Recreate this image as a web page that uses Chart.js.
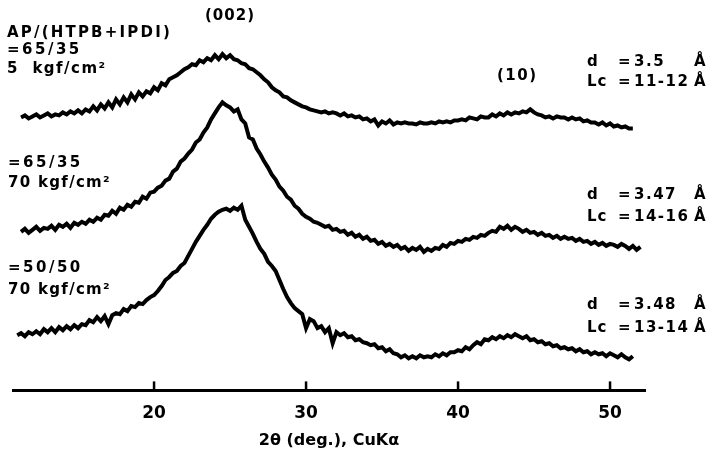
<!DOCTYPE html>
<html>
<head>
<meta charset="utf-8">
<script src="https://cdn.jsdelivr.net/npm/chart.js@4/dist/chart.umd.min.js"></script>
<style>
  body { margin: 0; background: #fff; }
</style>
</head>
<body>
<canvas id="chart" width="713" height="450"></canvas>
<script>
// diffractometer sampling grid, deg 2θ
const stepDeg = 0.25;

// AP/(HTPB+IPDI) = 65/35, 5 kgf/cm2  (starts at 11.25°)
const startTop = 11.25;
const topTrace = [
    272, 274, 271, 273,  275, 272, 274, 276,  273, 275, 274, 277,  275, 278, 276, 279,
    276, 280, 278, 283,  279, 285, 281, 287,  282, 290, 285, 292,  287, 295, 290, 297,
    293, 298, 296, 302,  299, 306, 304, 310,  312, 314, 317, 320,  322, 325, 324, 329,
    327, 331, 329, 334,  330, 335, 331, 334,  330, 329, 326, 325,  321, 320, 317, 314,
    310, 307, 302, 299,  297, 293, 292, 289,  287, 285, 283, 282,  280, 279, 278, 277,
    278, 276, 277, 276,  274, 276, 273, 274,  272, 273, 270, 271,  268, 270, 264, 268,
    266, 269, 265, 267,  266, 267, 266, 266,  265, 267, 266, 266,  267, 266, 268, 267,
    268, 267, 269, 269,  270, 269, 272, 271,  270, 273, 272, 272,  275, 273, 276, 274,
    277, 275, 277, 276,  278, 277, 280, 277,  275, 274, 272, 273,  271, 273, 272, 272,
    270, 272, 270, 271,  268, 269, 267, 267,  265, 267, 264, 266,  263, 264, 262, 263,
    261, 261
];

// = 65/35, 70 kgf/cm2  (starts at 11.25°)
const startMid = 11.25;
const midTrace = [
    158, 161, 157, 160,  163, 159, 162, 161,  164, 160, 165, 163,  166, 162, 167, 165,
    168, 166, 170, 168,  172, 170, 175, 174,  179, 176, 182, 180,  185, 183, 188, 187,
    193, 191, 197, 198,  202, 204, 209, 211,  218, 221, 228, 231,  236, 240, 247, 250,
    257, 262, 270, 276,  282, 287, 284, 282,  278, 280, 270, 266,  252, 250, 241, 235,
    228, 222, 215, 210,  203, 199, 193, 190,  184, 181, 176, 173,  171, 168, 167, 165,
    163, 164, 160, 161,  158, 159, 155, 157,  153, 155, 151, 153,  149, 150, 146, 148,
    144, 146, 143, 145,  141, 143, 139, 142,  140, 143, 138, 141,  139, 142, 141, 145,
    143, 147, 146, 149,  148, 151, 150, 153,  152, 155, 154, 157,  159, 158, 163, 161,
    164, 160, 163, 161,  158, 160, 157, 158,  155, 157, 154, 155,  152, 154, 151, 153,
    151, 152, 149, 151,  148, 149, 146, 148,  145, 147, 144, 146,  145, 143, 146, 144,
    141, 144, 140, 143
];

// = 50/50, 70 kgf/cm2  (starts at 11.0°)
const startBot = 11.0;
const botTrace = [
    55,
    57, 54, 58, 56,   59, 56, 61, 58,   62, 58, 63, 60,   64, 61, 65, 62,
    66, 65, 70, 68,   73, 69, 74, 66,   75, 77, 76, 81,   79, 84, 83, 87,
    86, 90, 93, 95,   99, 104, 110, 113,  117, 119, 124, 127,  134, 141, 148, 154,
    160, 165, 171, 175,  178, 180, 181, 179,  182, 180, 184, 170,  163, 156, 148, 141,
    136, 128, 124, 119,  110, 101, 93, 87,  82, 79, 76, 62,   71, 69, 62, 64,
    58, 62, 47, 58,   55, 57, 53, 54,   50, 51, 48, 47,   45, 46, 42, 43,
    39, 41, 37, 36,   33, 35, 32, 34,   32, 35, 33, 34,   33, 36, 34, 37,
    35, 38, 38, 40,   39, 43, 41, 45,   48, 46, 51, 50,   53, 51, 54, 52,
    55, 53, 56, 54,   52, 54, 50, 51,   48, 49, 46, 47,   44, 45, 42, 43,
    41, 42, 39, 41,   38, 39, 36, 38,   36, 37, 34, 37,   35, 33, 36, 33,
    31, 34
];

const xTicks = [20, 30, 40, 50];

function toPoints(start, values) {
    return values.map((v, i) => ({ x: start + i * stepDeg, y: v }));
}

const trace = (data) => ({
    data: data,
    borderColor: '#000',
    borderWidth: 4,
    pointRadius: 0,
    tension: 0,
    fill: false
});

const FONT = 'DejaVu Sans, Verdana, sans-serif';

// text on the plot + little inward tick marks
const annotate = {
    id: 'annotate',
    afterDraw(chart) {
        const ctx = chart.ctx;
        const xs = chart.scales.x;
        ctx.save();

        ctx.strokeStyle = '#000';
        ctx.lineWidth = 2.5;
        xTicks.forEach(v => {
            const px = xs.getPixelForValue(v);
            ctx.beginPath();
            ctx.moveTo(px, xs.top);
            ctx.lineTo(px, xs.top - 9);
            ctx.stroke();
        });

        ctx.fillStyle = '#000';
        ctx.textBaseline = 'middle';
        ctx.textAlign = 'left';
        ctx.font = 'bold 15px ' + FONT;

        const put = (t, x, y, sp) => {
            ctx.letterSpacing = (sp || 1) + 'px';
            ctx.fillText(t, x, y);
        };

        put('(002)', 205, 16);
        put('AP/(HTPB+IPDI)', 7, 33, 2.2);
        put('=65/35', 7, 50, 2.5);
        put('5  kgf/cm²', 7, 69, 1.5);
        put('=65/35', 8, 163, 2.5);
        put('70 kgf/cm²', 8, 183, 1.3);
        put('=50/50', 8, 268, 2.5);
        put('70 kgf/cm²', 8, 290, 1.3);
        put('(10)', 497, 76, 1.5);

        const dRows = [
            [62, 'd', '3.5'], [82, 'Lc', '11-12'],
            [195, 'd', '3.47'], [217, 'Lc', '14-16'],
            [305, 'd', '3.48'], [328, 'Lc', '13-14']
        ];
        dRows.forEach(([y, k, v]) => {
            put(k, 587, y);
            put('=', 618, y);
            put(v, 634, y, 1.5);
            put('Å', 694, y);
        });

        ctx.restore();
    }
};

new Chart(document.getElementById('chart'), {
    type: 'line',
    data: {
        datasets: [
            trace(toPoints(startTop, topTrace)),
            trace(toPoints(startMid, midTrace)),
            trace(toPoints(startBot, botTrace))
        ]
    },
    options: {
        responsive: false,
        animation: false,
        layout: { padding: { left: 13, right: 68, top: 0, bottom: 0 } },
        plugins: {
            legend: { display: false },
            tooltip: { enabled: false }
        },
        scales: {
            x: {
                type: 'linear',
                min: 10.72,
                max: 52.3,
                afterBuildTicks: s => { s.ticks = xTicks.map(v => ({ value: v })); },
                grid: { display: true, drawOnChartArea: false, drawTicks: false },
                border: { display: true, color: '#000', width: 3 },
                ticks: {
                    color: '#000',
                    padding: 13,
                    font: { family: FONT, size: 17, weight: 'bold' }
                },
                title: {
                    display: true,
                    text: '2θ (deg.), CuKα',
                    color: '#000',
                    font: { family: FONT, size: 16, weight: 'bold' },
                    padding: { top: -6, bottom: 0 }
                }
            },
            y: {
                display: false,
                min: 0,
                max: 389
            }
        }
    },
    plugins: [annotate]
});
</script>
</body>
</html>
